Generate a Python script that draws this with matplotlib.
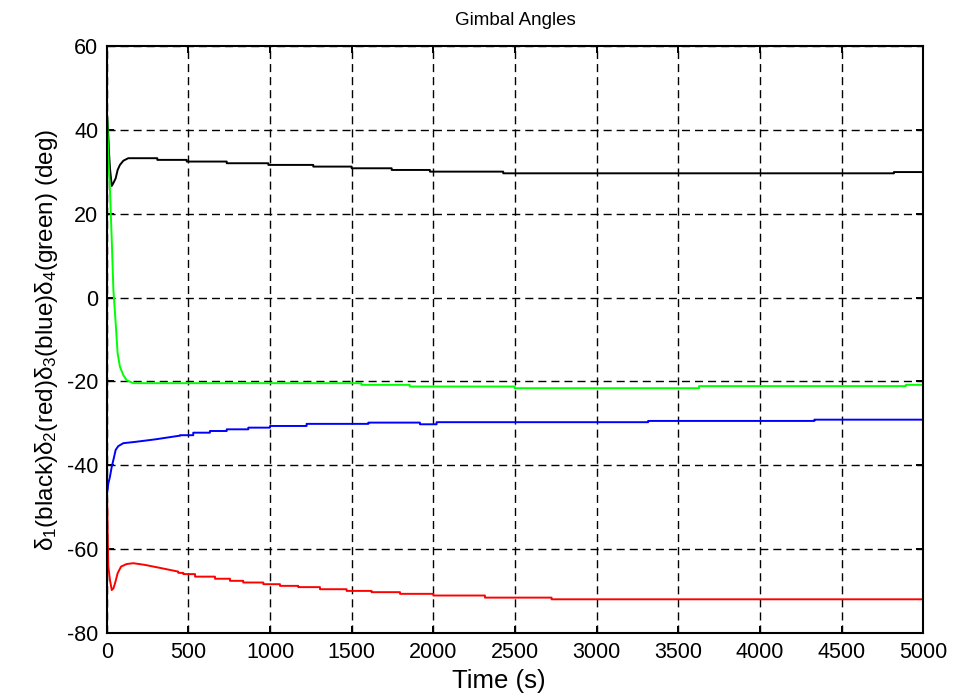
import numpy as np
import matplotlib
matplotlib.use("Agg")
import matplotlib.pyplot as plt

plt.rcParams['font.family'] = ['Liberation Sans', 'DejaVu Sans']
plt.rcParams['mathtext.fontset'] = 'custom'
plt.rcParams['mathtext.rm'] = 'Liberation Sans'
plt.rcParams['mathtext.it'] = 'Liberation Sans'
plt.rcParams['axes.unicode_minus'] = False

# ---- gimbal angle histories (deg) ----
# initial transient, sampled (s, deg)
t_black = [0, 8, 15, 20, 31, 40, 55, 67, 81, 102, 132, 310]
black = [45.0, 40.0, 34.0, 30.8, 26.6, 27.2, 28.4, 30.4, 31.6, 32.6, 33.2, 33.2]
# slow drift afterwards, piecewise constant levels starting at each time
black_step_t = [310, 490, 735, 990, 1265, 1500, 1745, 1979, 2428, 4820]
black_step = [32.8, 32.4, 32.0, 31.6, 31.2, 30.8, 30.4, 30.0, 29.6, 29.9]

t_red = [0, 4, 6, 10, 20, 31, 41, 51, 67, 88, 122, 163, 234, 337, 438]
red = [-44.3, -50.6, -56.2, -64.1, -67.3, -69.7, -69.3, -68.1, -65.7,
       -64.1, -63.5, -63.3, -63.7, -64.5, -65.3]
red_step_t = [438, 469, 541, 663, 755, 836, 959, 1061, 1173, 1306, 1469,
              1622, 1796, 2000, 2316, 2724]
red_step = [-65.6, -65.9, -66.5, -67.0, -67.5, -67.9, -68.3, -68.7, -69.0,
            -69.5, -69.9, -70.2, -70.6, -71.0, -71.5, -71.9]

t_blue = [0, 10, 20, 31, 41, 55, 71, 102, 173, 296, 398, 450]
blue = [-47.5, -44.3, -42.7, -40.3, -38.7, -36.3, -35.4, -34.7, -34.4,
        -33.8, -33.2, -32.9]
blue_step_t = [450, 530, 632, 735, 867, 1000, 1224, 1602, 1918, 2020, 3315, 4333]
blue_step = [-32.8, -32.2, -31.8, -31.4, -31.0, -30.6, -30.1, -29.8, -30.2,
             -29.7, -29.4, -29.1]

t_green = [0, 4, 10, 20, 31, 41, 55, 67, 81, 102, 122, 163]
green = [45.1, 41.5, 33.6, 25.6, 13.7, 1.8, -6.1, -13.3, -16.5, -18.5,
         -19.7, -20.4]
green_step_t = [163, 1559, 1855, 2498, 3627, 4893]
green_step = [-20.4, -20.8, -21.2, -21.6, -21.1, -20.8]

t_end = 5000


def history(t_tr, v_tr, t_st, v_st):
    """Join the sampled transient with the stepped tail into one path."""
    t = list(t_tr)
    v = list(v_tr)
    for ts, vs in zip(t_st, v_st):
        t.append(ts)
        v.append(v[-1])
        t.append(ts)
        v.append(vs)
    t.append(t_end)
    v.append(v[-1])
    return np.array(t, float), np.array(v, float)


fig = plt.figure(figsize=(9.56, 6.96), dpi=100)
ax = fig.add_axes([0.1116, 0.0901, 0.8542, 0.8442])

for tt, vv, ts, vs, col in [
    (t_black, black, black_step_t, black_step, 'black'),
    (t_red, red, red_step_t, red_step, '#ff0000'),
    (t_blue, blue, blue_step_t, blue_step, '#0000ff'),
    (t_green, green, green_step_t, green_step, '#00ff00'),
]:
    x, y = history(tt, vv, ts, vs)
    ax.plot(x, y, color=col, lw=1.4, solid_joinstyle='round')

ax.set_xlim(0, 5000)
ax.set_ylim(-80, 60)
ax.set_xticks(np.arange(0, 5001, 500))
ax.set_yticks(np.arange(-80, 61, 20))
ax.grid(True, color='black', linestyle=(0, (5.8, 3.6)), linewidth=1.0)

ax.tick_params(direction='in', length=5, width=1.4, top=True, right=True,
               labelsize=15.5, pad=6)
for s in ax.spines.values():
    s.set_linewidth(1.5)

ax.set_title('Gimbal Angles', fontsize=13.5, pad=15)
ax.set_xlabel('Time (s)', fontsize=18.5, labelpad=2)
ax.xaxis.set_label_coords(0.48, -0.06)
ax.set_ylabel(r'$\delta_1$(black)$\delta_2$(red)$\delta_3$(blue)$\delta_4$(green) (deg)',
              fontsize=17.5, labelpad=5)

fig.savefig('out.png', dpi=100)
